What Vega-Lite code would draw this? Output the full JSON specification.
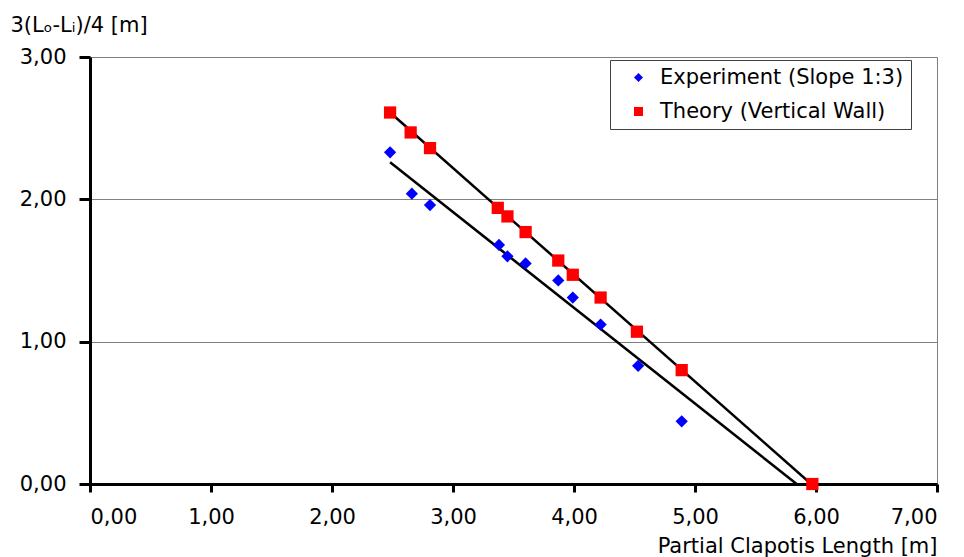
{
  "$schema": "https://vega.github.io/schema/vega-lite/v6.json",
  "width": 847,
  "height": 427,
  "autosize": "none",
  "padding": {"left": 90, "top": 57, "right": 27, "bottom": 73},
  "background": "white",
  "config": {
    "font": "DejaVu Sans",
    "view": {"stroke": "#808080", "strokeWidth": 1},
    "axis": {
      "labelFont": "DejaVu Sans",
      "titleFont": "DejaVu Sans",
      "labelFontSize": 21,
      "titleFontSize": 21,
      "labelColor": "black",
      "titleColor": "black",
      "titleFontWeight": "normal",
      "domainColor": "black",
      "domainWidth": 3,
      "tickColor": "black",
      "tickWidth": 3
    },
    "legend": {
      "labelFont": "DejaVu Sans",
      "labelFontSize": 21,
      "labelColor": "black",
      "labelLimit": 400
    }
  },
  "datasets": {
    "pts": [
      {"x": 2.48, "y": 2.61, "series": "Theory (Vertical Wall)"},
      {"x": 2.65, "y": 2.47, "series": "Theory (Vertical Wall)"},
      {"x": 2.81, "y": 2.36, "series": "Theory (Vertical Wall)"},
      {"x": 3.37, "y": 1.94, "series": "Theory (Vertical Wall)"},
      {"x": 3.45, "y": 1.88, "series": "Theory (Vertical Wall)"},
      {"x": 3.6, "y": 1.77, "series": "Theory (Vertical Wall)"},
      {"x": 3.87, "y": 1.57, "series": "Theory (Vertical Wall)"},
      {"x": 3.99, "y": 1.47, "series": "Theory (Vertical Wall)"},
      {"x": 4.22, "y": 1.31, "series": "Theory (Vertical Wall)"},
      {"x": 4.52, "y": 1.07, "series": "Theory (Vertical Wall)"},
      {"x": 4.89, "y": 0.8, "series": "Theory (Vertical Wall)"},
      {"x": 5.97, "y": 0.0, "series": "Theory (Vertical Wall)"},
      {"x": 2.48, "y": 2.33, "series": "Experiment (Slope 1:3)"},
      {"x": 2.66, "y": 2.04, "series": "Experiment (Slope 1:3)"},
      {"x": 2.81, "y": 1.96, "series": "Experiment (Slope 1:3)"},
      {"x": 3.38, "y": 1.68, "series": "Experiment (Slope 1:3)"},
      {"x": 3.45, "y": 1.6, "series": "Experiment (Slope 1:3)"},
      {"x": 3.6, "y": 1.55, "series": "Experiment (Slope 1:3)"},
      {"x": 3.87, "y": 1.43, "series": "Experiment (Slope 1:3)"},
      {"x": 3.99, "y": 1.31, "series": "Experiment (Slope 1:3)"},
      {"x": 4.22, "y": 1.12, "series": "Experiment (Slope 1:3)"},
      {"x": 4.53, "y": 0.83, "series": "Experiment (Slope 1:3)"},
      {"x": 4.89, "y": 0.44, "series": "Experiment (Slope 1:3)"}
    ],
    "fits": [
      {"x": 2.48, "y": 2.61, "fit": "Theory"},
      {"x": 5.96, "y": 0.0, "fit": "Theory"},
      {"x": 2.48, "y": 2.26, "fit": "Experiment"},
      {"x": 5.84, "y": 0.0, "fit": "Experiment"}
    ]
  },
  "encoding": {
    "x": {
      "field": "x",
      "type": "quantitative",
      "scale": {"domain": [0, 7], "nice": false, "zero": false},
      "axis": {
        "values": [0, 1, 2, 3, 4, 5, 6, 7],
        "grid": false,
        "tickSize": 8,
        "labelExpr": "replace(format(datum.value, '.2f'), '.', ',')",
        "labelPadding": 14,
        "title": "Partial Clapotis Length [m]",
        "titleAnchor": "end",
        "titleAlign": "right",
        "titleX": 847,
        "titleY": 62,
        "titleBaseline": "middle"
      }
    },
    "y": {
      "field": "y",
      "type": "quantitative",
      "scale": {"domain": [0, 3], "nice": false, "zero": false},
      "axis": {
        "values": [0, 1, 2, 3],
        "grid": true,
        "gridColor": "#808080",
        "gridWidth": 1,
        "tickSize": 11,
        "labelExpr": "replace(format(datum.value, '.2f'), '.', ',')",
        "labelPadding": 13,
        "title": "3(Lₒ-Lᵢ)/4 [m]",
        "titleAngle": 0,
        "titleAlign": "left",
        "titleBaseline": "middle",
        "titleX": -80,
        "titleY": -32
      }
    }
  },
  "layer": [
    {
      "data": {"name": "fits"},
      "mark": {"type": "line", "color": "black", "strokeWidth": 2.5},
      "encoding": {"detail": {"field": "fit", "type": "nominal"}}
    },
    {
      "data": {"name": "pts"},
      "mark": {"type": "point", "filled": true, "opacity": 1, "size": 150},
      "encoding": {
        "color": {
          "field": "series",
          "type": "nominal",
          "scale": {"domain": ["Experiment (Slope 1:3)", "Theory (Vertical Wall)"], "range": ["#0000FF", "#FF0000"]},
          "legend": {
            "title": null,
            "orient": "none",
            "legendX": 520,
            "legendY": 3,
            "fillColor": "white",
            "strokeColor": "#404040",
            "padding": 7,
            "symbolSize": 81,
            "symbolOffset": 11,
            "rowPadding": 12,
            "labelOffset": 11
          }
        },
        "shape": {
          "field": "series",
          "type": "nominal",
          "scale": {"domain": ["Experiment (Slope 1:3)", "Theory (Vertical Wall)"], "range": ["diamond", "square"]}
        }
      }
    }
  ]
}
